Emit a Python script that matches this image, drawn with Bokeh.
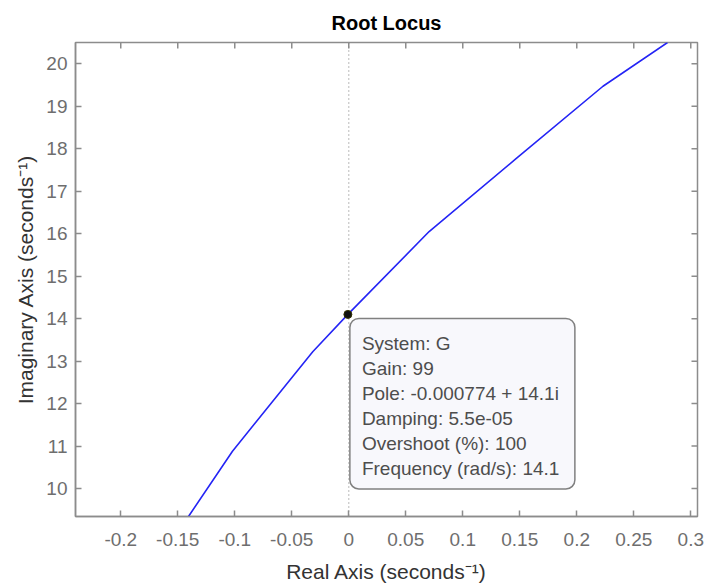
from bokeh.plotting import figure
from bokeh.models import Range1d, FixedTicker, BoxAnnotation, Span, ColumnDataSource
from bokeh.embed import file_html
from bokeh.resources import INLINE
from bokeh.core.properties import value

# ---- data ----
locus_re = [-0.1406, -0.102, -0.0316, -0.000774, 0.0705, 0.147, 0.223, 0.2796]
locus_im = [9.343, 10.88, 13.22, 14.1, 16.05, 17.77, 19.47, 20.5]

pole_re = -0.000774
pole_im = 14.1

x_ticks = [-0.2, -0.15, -0.1, -0.05, 0, 0.05, 0.1, 0.15, 0.2, 0.25, 0.3]
x_tick_labels = ["-0.2", "-0.15", "-0.1", "-0.05", "0", "0.05", "0.1", "0.15", "0.2", "0.25", "0.3"]
y_ticks = [10, 11, 12, 13, 14, 15, 16, 17, 18, 19, 20]
y_tick_labels = ["10", "11", "12", "13", "14", "15", "16", "17", "18", "19", "20"]

tip_lines = [
    "System: G",
    "Gain: 99",
    "Pole: -0.000774 + 14.1i",
    "Damping: 5.5e-05",
    "Overshoot (%): 100",
    "Frequency (rad/s): 14.1",
]

# ---- figure ----
X0, X1 = -0.2397, 0.3059
Y0, Y1 = 9.343, 20.5
FW, FH = 622, 475  # frame size in px
px_per_x = FW / (X1 - X0)
px_per_y = FH / (Y1 - Y0)

FONT = "Liberation Sans"
AXIS_GREY = "#8c8c8c"
TICK_LEN = 6

p = figure(width=708, height=585, output_backend="svg", toolbar_location=None,
           x_range=Range1d(X0, X1), y_range=Range1d(Y0, Y1),
           min_border_left=75, min_border_right=11, min_border_top=42, min_border_bottom=68,
           background_fill_color="white", border_fill_color="white")

p.title.text = "Root Locus"
p.title.align = "center"
p.title.text_font = FONT
p.title.text_font_size = "20px"
p.title.text_font_style = "bold"
p.title.text_color = "#000000"
p.title.standoff = 17

p.grid.visible = False
p.outline_line_color = AXIS_GREY
p.outline_line_width = 1.5

for ax in (p.xaxis[0], p.yaxis[0]):
    ax.axis_line_color = AXIS_GREY
    ax.axis_line_width = 1.5
    ax.major_tick_in = TICK_LEN
    ax.major_tick_out = 0
    ax.major_tick_line_color = AXIS_GREY
    ax.major_tick_line_width = 1.5
    ax.minor_tick_line_color = None
    ax.major_label_text_font = FONT
    ax.major_label_text_font_size = "19px"
    ax.major_label_text_color = "#6e6e6e"
    ax.axis_label_text_font = FONT
    ax.axis_label_text_font_size = "21px"
    ax.axis_label_text_font_style = "normal"
    ax.axis_label_text_color = "#333333"

p.xaxis[0].ticker = FixedTicker(ticks=x_ticks)
p.xaxis[0].major_label_overrides = dict(zip(x_ticks, x_tick_labels))
p.xaxis[0].axis_label = "Real Axis (seconds\u207b\u00b9)"
p.xaxis[0].major_label_standoff = 16
p.xaxis[0].axis_label_standoff = 11

p.yaxis[0].ticker = FixedTicker(ticks=y_ticks)
p.yaxis[0].major_label_overrides = dict(zip(y_ticks, y_tick_labels))
p.yaxis[0].axis_label = "Imaginary Axis (seconds\u207b\u00b9)"
p.yaxis[0].major_label_standoff = 8
p.yaxis[0].axis_label_standoff = 6

# inward ticks on the top and right edges of the box
p.segment(x0=x_ticks, y0=[Y1] * len(x_ticks), x1=x_ticks,
          y1=[Y1 - TICK_LEN / px_per_y] * len(x_ticks),
          line_color=AXIS_GREY, line_width=1.5)
p.segment(x0=[X1] * len(y_ticks), y0=y_ticks, x1=[X1 - TICK_LEN / px_per_x] * len(y_ticks),
          y1=y_ticks, line_color=AXIS_GREY, line_width=1.5)

# dotted imaginary axis
p.add_layout(Span(location=0, dimension="height", line_color="#8c8c8c",
                  line_width=1.2, line_dash="1 3", level="underlay"))

# root locus branch
p.line(locus_re, locus_im, line_color="#2424f5", line_width=1.6)

# data tip box
box = BoxAnnotation(left=pole_re + 2 / px_per_x, right=pole_re + 227 / px_per_x,
                    top=pole_im - 4 / px_per_y, bottom=pole_im - 175 / px_per_y,
                    fill_color="#f8f8fc", fill_alpha=1.0,
                    line_color="#808080", line_alpha=1.0, line_width=1.5, border_radius=9,
                    level="underlay")
p.add_layout(box)

src = ColumnDataSource(dict(
    x=[pole_re] * len(tip_lines),
    y=[pole_im] * len(tip_lines),
    text=tip_lines,
    yo=[29 + 25 * i for i in range(len(tip_lines))],
))
p.text(x="x", y="y", text="text", source=src, x_offset=14, y_offset="yo",
       text_baseline="middle", text_align="left",
       text_font=value(FONT), text_font_size="19px", text_color="#4d4d4d")

# data tip marker
p.scatter([pole_re], [pole_im], size=8, fill_color="#111111", line_color="#333300", line_width=1)

open("out.html", "w").write(file_html(p, INLINE))
